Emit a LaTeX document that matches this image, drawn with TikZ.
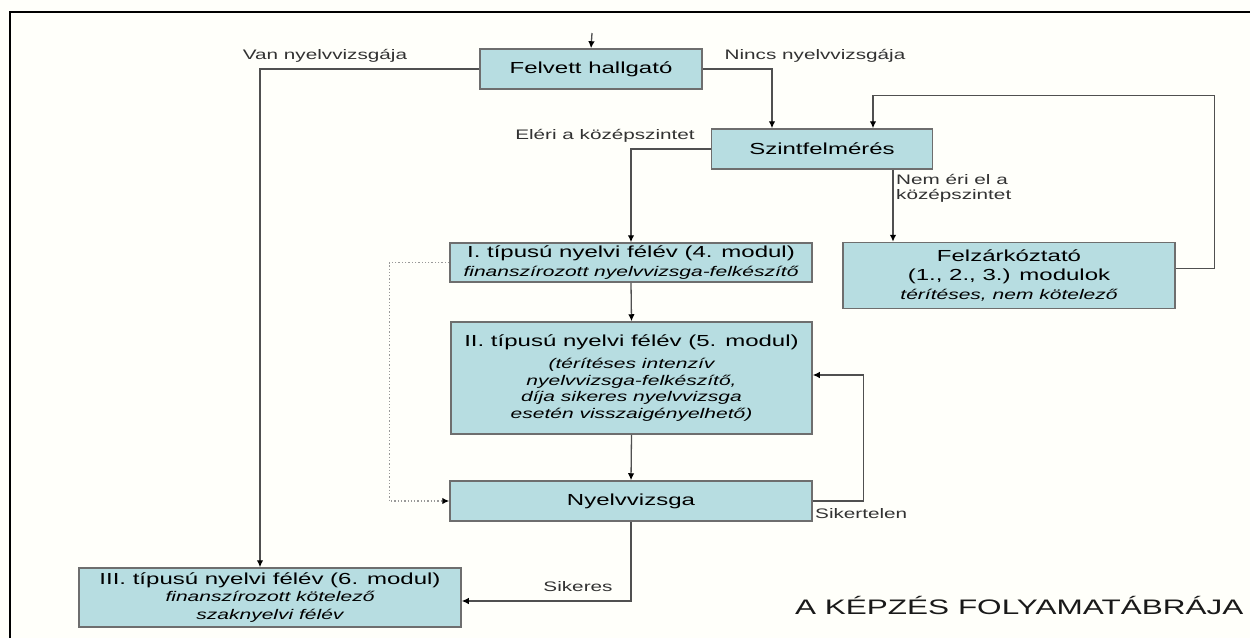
\documentclass[tikz,border=0pt]{standalone}
\usepackage{fontspec}
\setmainfont{Liberation Sans}[FakeStretch=1.5]
\usetikzlibrary{arrows.meta}
\definecolor{boxfill}{RGB}{183,221,225}
\definecolor{boxline}{RGB}{110,110,110}
\definecolor{connline}{RGB}{80,80,80}
\definecolor{lblcol}{RGB}{50,50,50}
\newcommand{\megj}[1]{{\fontsize{14}{16.7}\selectfont\itshape #1}}
\begin{document}
\begin{tikzpicture}[x=1pt, y=-1pt,
  box/.style={draw=boxline, line width=1.5pt, fill=boxfill, text=black, align=center, inner sep=0pt, font=\fontsize{16}{19}\selectfont},
  lbl/.style={text=lblcol, inner sep=0pt, font=\fontsize{13.8}{15.5}\selectfont},
  conn/.style={draw=connline, line width=1.3pt, -{Latex[length=7pt,width=6.5pt,color=black]}},
  dots/.style={conn, draw=black!40, dotted}]
	    \useasboundingbox (0,0) rectangle (1250,638);
	    \fill[white!98!yellow] (0,0) rectangle (1250,638);
	    \draw[line width=2pt] (10,638) -- (10,12) -- (1250,12);
	    \node[box, minimum width=222pt, minimum height=40pt] (felvett) at (591, 69) {Felvett hallgató};
	    \node[box, minimum width=221pt, minimum height=40pt] (szint) at (822, 149) {Szintfelmérés};
	    \node[box, minimum width=362pt, minimum height=39pt] (tipusI) at (631, 262.5) {I. típusú nyelvi félév (4. modul)\\ \megj{finanszírozott nyelvvizsga-felkészítő}};
	    \node[box, minimum width=332pt, minimum height=66pt] (felz) at (1009, 275.5) {Felzárkóztató\\ (1., 2., 3.) modulok\\ \megj{térítéses, nem kötelező}};
	    \node[box, minimum width=361pt, minimum height=112pt] (tipusII) at (631.5, 378) {II. típusú nyelvi félév (5. modul)\\[3pt] \megj{(térítéses intenzív}\\[-2.3pt] \megj{nyelvvizsga-felkészítő,}\\[-2.3pt] \megj{díja sikeres nyelvvizsga}\\[-2.3pt] \megj{esetén visszaigényelhető)}};
	    \node[box, minimum width=362pt, minimum height=40pt] (vizsga) at (631, 501) {Nyelvvizsga};
	    \node[box, minimum width=382pt, minimum height=59pt] (tipusIII) at (270, 597.5) {III. típusú nyelvi félév (6. modul)\\[-2pt] \megj{finanszírozott kötelező}\\[-1.5pt] \megj{szaknyelvi félév}};
	    \node[lbl] (van) at (325, 56) {Van nyelvvizsgája};
	    \node[lbl] (nincs) at (815, 56) {Nincs nyelvvizsgája};
	    \node[lbl] (eleri) at (605, 136) {Eléri a középszintet};
	    \node[lbl, anchor=north west, align=left] (nemeri) at (896, 174) {Nem éri el a\\ középszintet};
	    \node[lbl, anchor=west] (sikertelen) at (815, 514) {Sikertelen};
	    \node[lbl] (sikeres) at (578, 587) {Sikeres};
	    \node[anchor=west, inner sep=0pt, font=\fontsize{21}{24}\selectfont, text=black!90] (cim) at (795, 605) {A KÉPZÉS FOLYAMATÁBRÁJA};
	    \coordinate (be) at (592, 33);
	    \draw[conn] (be) -- (felvett.north);
	    \draw[conn] (felvett.west) -| ([xshift=-10pt]tipusIII.north);
	    \draw[conn] (felvett.east) -| ([xshift=-50pt]szint.north);
	    \draw[conn] (szint.west) -| (tipusI.north);
	    \draw[conn] ([xshift=71pt]szint.south) -- ([xshift=71pt]szint.south |- felz.north);
	    \draw[conn] ([yshift=7pt]felz.east) -- ++(39,0) |- ([xshift=51pt,yshift=33pt]szint.north) -- ([xshift=51pt]szint.north);
	    \draw[conn] (tipusI.south) -- (tipusII.north);
	    \draw[conn] (tipusII.south) -- (vizsga.north);
	    \draw[conn] (vizsga.east) -- ++(51,0) |- ([yshift=3pt]tipusII.east);
	    \draw[conn] (vizsga.south) |- ([yshift=-3.5pt]tipusIII.east);
	    \draw[dots] (tipusI.west) -- ++(-60,0) |- (vizsga.west);
	\end{tikzpicture}
\end{document}
